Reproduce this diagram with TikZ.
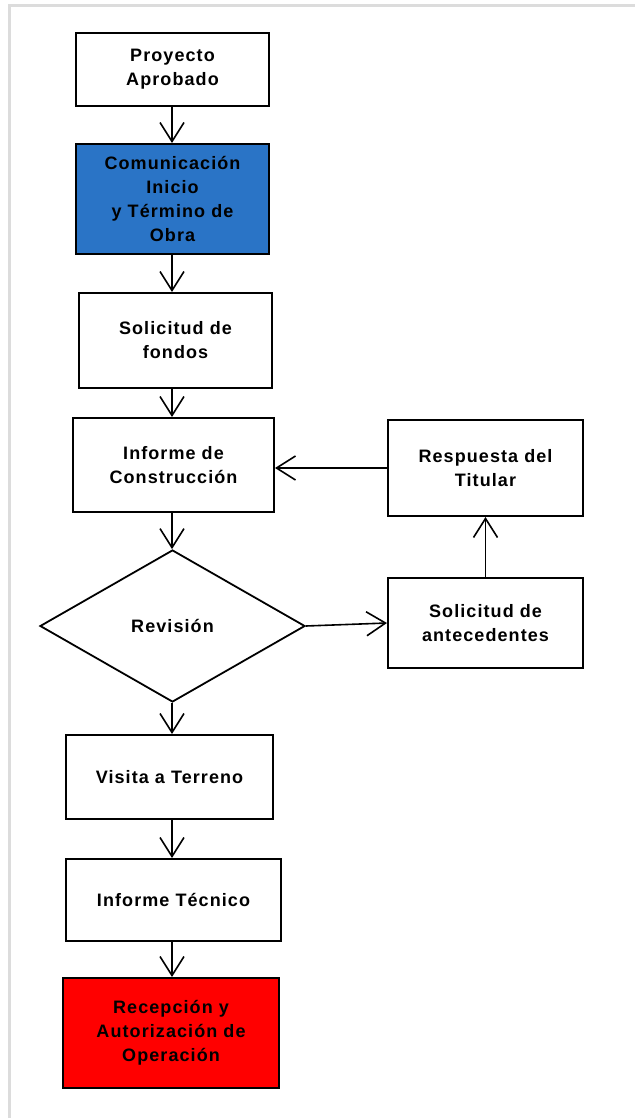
\documentclass[tikz,border=0pt]{standalone}
\usepackage{fontspec}
\setmainfont{Liberation Sans}[LetterSpace=6]
\usetikzlibrary{arrows.meta,shapes.geometric}
\definecolor{boxblue}{RGB}{42,116,198}
\definecolor{framegray}{RGB}{220,220,220}
\begin{document}
\begin{tikzpicture}[x=1pt,y=-1pt,
  flowbox/.style={draw=black,line width=2pt,inner sep=0pt,align=center,
    font=\fontsize{18}{24}\selectfont\bfseries,text=black},
  decision/.style={draw=black,line width=1.8pt,shape=diamond,inner sep=0pt,
    minimum width=265pt,minimum height=152pt,
    font=\fontsize{18}{24}\selectfont\bfseries},
  arr/.style={line width=1.6pt,-{Straight Barb[length=19pt,width=24pt,line join=miter]}}]
\useasboundingbox (0,0) rectangle (635,1118);
\fill[white] (0,0) rectangle (635,1118);
\draw[framegray,line width=2.2pt] (9.5,1118) -- (9.5,5.5) -- (635,5.5);

\node[flowbox,minimum width=193pt,minimum height=73pt] (p1) at (172.5,69.5) {Proyecto\\Aprobado};
\node[flowbox,fill=boxblue,minimum width=193pt,minimum height=110pt] (p2) at (172.5,199) {Comunicación\\Inicio\\y Término de\\Obra};
\node[flowbox,minimum width=193pt,minimum height=95pt] (p3) at (175.5,340.5) {Solicitud de\\fondos};
\node[flowbox,minimum width=201pt,minimum height=94pt] (p4) at (173.5,465) {Informe de\\Construcción};
\node[flowbox,minimum width=195pt,minimum height=96pt] (r1) at (485.5,468) {Respuesta del\\Titular};
\node[decision] (d) at (172.5,626) {Revisión};
\node[flowbox,minimum width=195pt,minimum height=90pt] (s1) at (485.5,623) {Solicitud de\\antecedentes};
\node[flowbox,minimum width=207pt,minimum height=84pt] (p5) at (169.5,777) {Visita a Terreno};
\node[flowbox,minimum width=215pt,minimum height=82pt] (p6) at (173.5,900) {Informe Técnico};
\node[flowbox,fill=red,minimum width=216pt,minimum height=110pt] (p7) at (171,1033) {Recepción y\\Autorización de\\Operación};

\coordinate (ax) at (172,0);
\draw[arr] (p1.south -| ax) -- (p2.north -| ax);
\draw[arr] (p2.south -| ax) -- (p3.north -| ax);
\draw[arr] (p3.south -| ax) -- (p4.north -| ax);
\draw[arr] (p4.south -| ax) -- (d.north -| ax);
\draw[arr] (d.south -| ax) -- (p5.north -| ax);
\draw[arr] (p5.south -| ax) -- (p6.north -| ax);
\draw[arr] (p6.south -| ax) -- (p7.north -| ax);
\draw[arr] (d.east) -- (s1.west);
\draw[arr] (s1.north) -- (r1.south);
\draw[arr] (r1.west) -- (r1.west -| p4.east);
\end{tikzpicture}
\end{document}
